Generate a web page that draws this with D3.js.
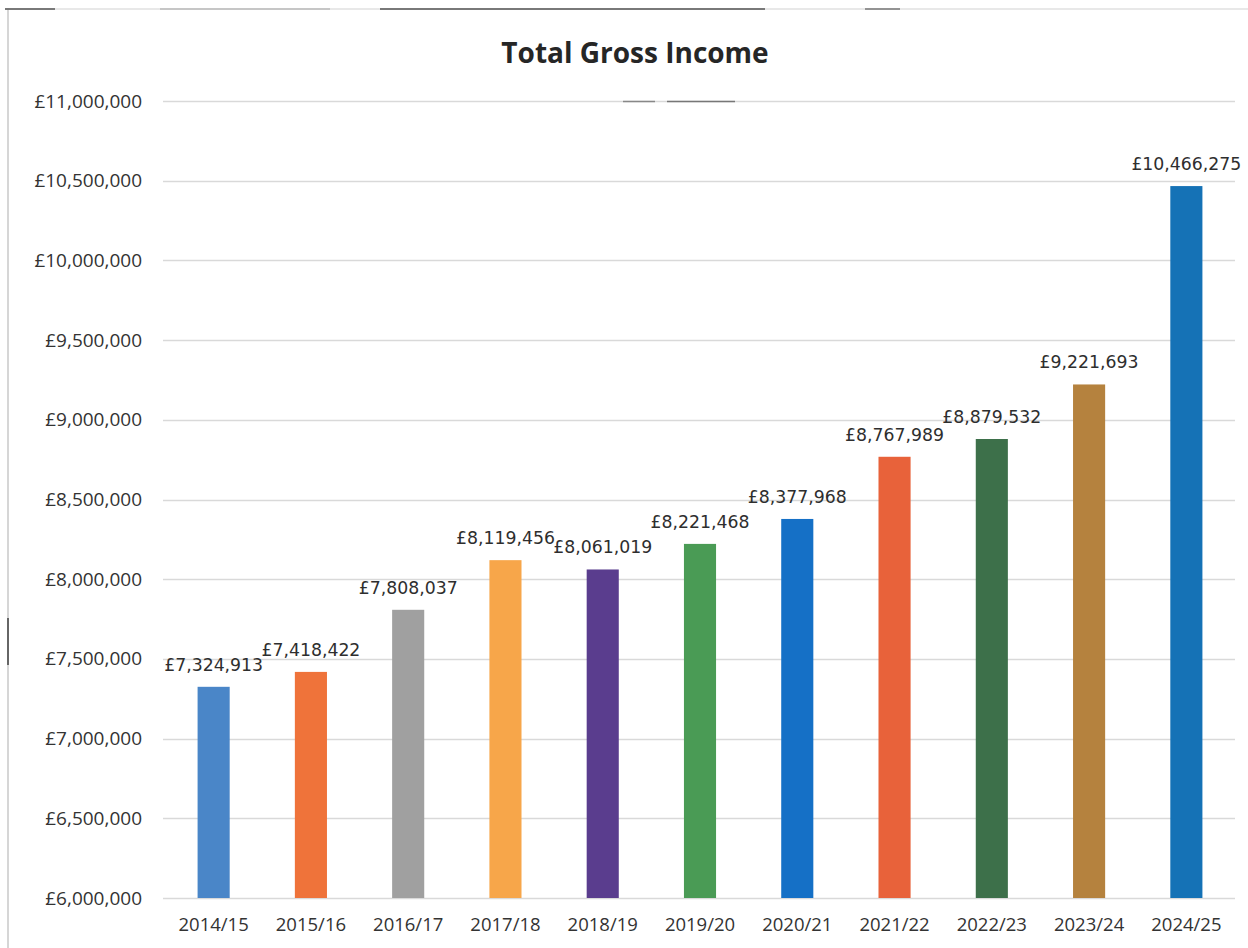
<!DOCTYPE html>
<html>
<head>
<meta charset="utf-8">
<script src="https://cdn.jsdelivr.net/npm/d3@7"></script>
<style>
  html, body { margin: 0; padding: 0; background: #fff; }
  svg { display: block; }
</style>
</head>
<body>
<svg id="chart" width="1248" height="948"></svg>
<script>
const categories = ["2014/15","2015/16","2016/17","2017/18","2018/19","2019/20","2020/21","2021/22","2022/23","2023/24","2024/25"];
const values = [7324913, 7418422, 7808037, 8119456, 8061019, 8221468, 8377968, 8767989, 8879532, 9221693, 10466275];
const barColors = ["#4a86c8","#ef733a","#a0a0a0","#f7a64a","#5a3d8e","#4a9b55","#1570c6","#e8623a","#3d704a","#b5823e","#1572b6"];
const yTicks = [6000000, 6500000, 7000000, 7500000, 8000000, 8500000, 9000000, 9500000, 10000000, 10500000, 11000000];
const title = "Total Gross Income";

const svg = d3.select("#chart");
const W = 1248, H = 948;
const plot = { left: 165, right: 1235, top: 101, bottom: 898 };

const fmt = d => "£" + d3.format(",")(d);

// frame (scan edges)
svg.append("line").attr("x1", 8).attr("x2", 8).attr("y1", 8).attr("y2", H)
  .attr("stroke", "#d6d6d6").attr("stroke-width", 2);
svg.append("line").attr("x1", 5).attr("x2", W).attr("y1", 9).attr("y2", 9)
  .attr("stroke", "#e0e0e0").attr("stroke-width", 1.5);
[[5,55,"#555"],[160,330,"#bbb"],[380,765,"#555"],[865,900,"#777"]].forEach(s => {
  svg.append("line").attr("x1", s[0]).attr("x2", s[1]).attr("y1", 9).attr("y2", 9)
    .attr("stroke", s[2]).attr("stroke-width", 1.5);
});
svg.append("line").attr("x1", 8).attr("x2", 8).attr("y1", 618).attr("y2", 665)
  .attr("stroke", "#666").attr("stroke-width", 2);

const x = d3.scaleBand().domain(categories).range([plot.left, plot.right])
  .paddingInner(0.67).paddingOuter(0.335);
const y = d3.scaleLinear().domain([6000000, 11000000]).range([plot.bottom, plot.top]);

// gridlines
svg.append("g").selectAll("line").data(yTicks).join("line")
  .attr("x1", plot.left - 2).attr("x2", plot.right)
  .attr("y1", d => Math.round(y(d)) + 0.5).attr("y2", d => Math.round(y(d)) + 0.5)
  .attr("stroke", "#d9d9d9").attr("stroke-width", 1.5);

// small artifacts under title
svg.append("line").attr("x1", 623).attr("x2", 655).attr("y1", 101.5).attr("y2", 101.5)
  .attr("stroke", "#888").attr("stroke-width", 1.5);
svg.append("line").attr("x1", 667).attr("x2", 735).attr("y1", 101.5).attr("y2", 101.5)
  .attr("stroke", "#777").attr("stroke-width", 1.5);

// y axis
const yAxis = d3.axisLeft(y).tickValues(yTicks).tickFormat(fmt).tickSize(0).tickPadding(0);
const gy = svg.append("g").attr("transform", `translate(142,0)`).call(yAxis);
gy.select(".domain").remove();
gy.selectAll("text").attr("font-family", "'Open Sans', sans-serif").attr("font-size", 19)
  .attr("fill", "#333");

// x axis
const xAxis = d3.axisBottom(x).tickSize(0).tickPadding(0);
const gx = svg.append("g").attr("transform", `translate(0,${plot.bottom})`).call(xAxis);
gx.select(".domain").remove();
gx.selectAll("text").attr("font-family", "'Open Sans', sans-serif").attr("font-size", 18.5)
  .attr("fill", "#333").attr("dy", null).attr("y", 33);

// bars
svg.append("g").selectAll("rect").data(categories).join("rect")
  .attr("x", d => x(d))
  .attr("width", x.bandwidth())
  .attr("y", (d, i) => y(values[i]))
  .attr("height", (d, i) => y(6000000) - y(values[i]))
  .attr("fill", (d, i) => barColors[i]);

// data labels
svg.append("g").selectAll("text").data(categories).join("text")
  .attr("x", d => x(d) + x.bandwidth() / 2)
  .attr("y", (d, i) => y(values[i]) - 16)
  .attr("text-anchor", "middle")
  .attr("font-family", "'DejaVu Sans', sans-serif")
  .attr("font-size", 17.3)
  .attr("fill", "#2e2e2e")
  .text((d, i) => fmt(values[i]));

// title
svg.append("text").attr("x", 635).attr("y", 63).attr("text-anchor", "middle")
  .attr("font-family", "'Open Sans', sans-serif").attr("font-weight", "bold")
  .attr("font-size", 28).attr("fill", "#262626").text(title);
</script>
</body>
</html>
